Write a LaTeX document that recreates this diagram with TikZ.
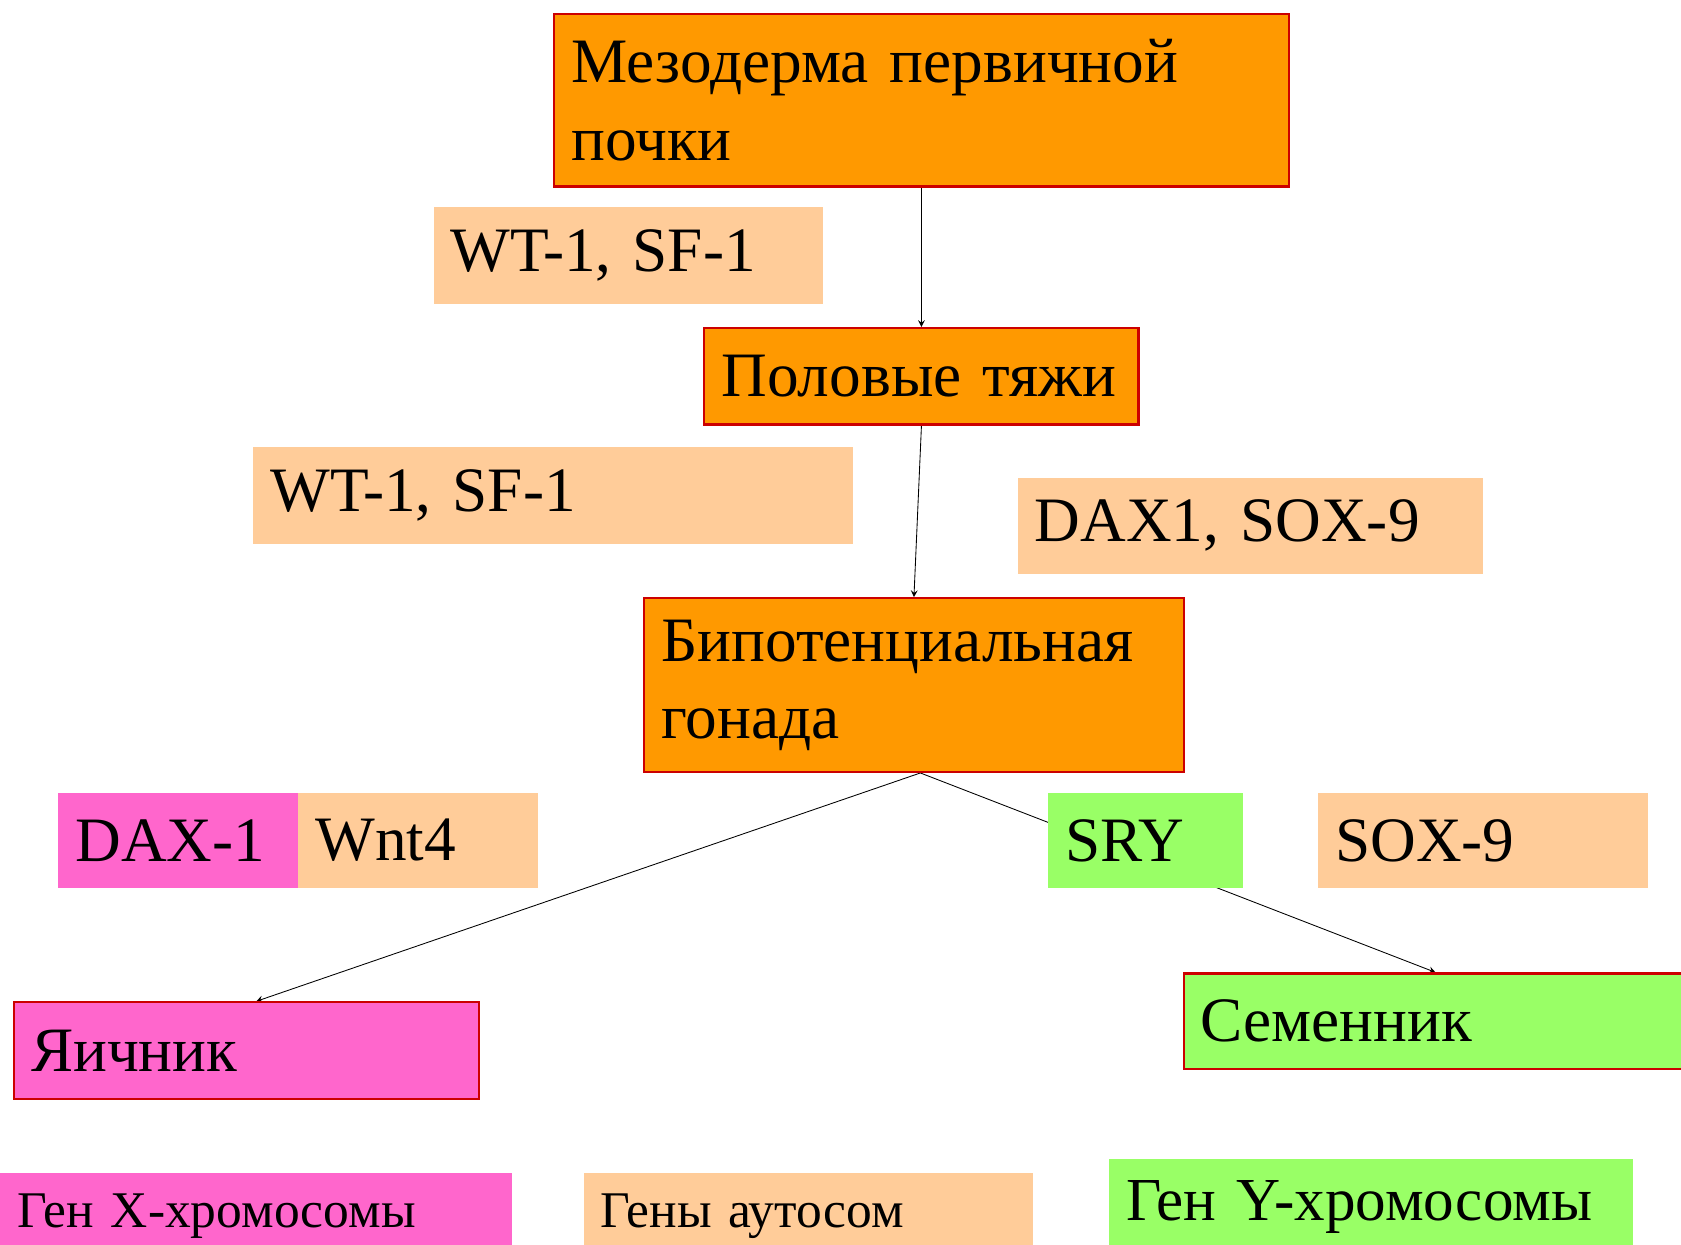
\documentclass[tikz,border=0pt]{standalone}
\usepackage{fontspec}
\setmainfont{Liberation Serif}
\usepackage{tikz}
\usetikzlibrary{positioning, arrows, backgrounds}
\definecolor{stageorange}{HTML}{FF9900}
\definecolor{framered}{HTML}{CC0000}
\definecolor{peach}{HTML}{FFCC99}
\definecolor{xpink}{HTML}{FF66CC}
\definecolor{ylime}{HTML}{99FF66}
\tikzstyle{tb}=[%
      rectangle, anchor=north west, inner xsep=8pt, inner ysep=0pt, align=left,
      font=\fontsize{29.5}{36}\selectfont
]
\tikzstyle{st}=[tb, draw=framered, line width=1pt, fill=stageorange]
\tikzstyle{au}=[tb, fill=peach]
\tikzstyle{xc}=[tb, fill=xpink]
\tikzstyle{yc}=[tb, fill=ylime]
\tikzstyle{fr}=[draw=framered, line width=1pt]

\begin{document}
\begin{tikzpicture}[x=0.5pt, y=-0.5pt,
    ->,
    >=stealth
  ]
    \useasboundingbox (0,0) rectangle (1568,1161);

    % stages
    \node[st, minimum width=342.5pt, minimum height=80.5pt, text width=326.5pt] (meso) at (516,12) {Мезодерма первичной\\почки};
    \node[st, minimum width=202.5pt, minimum height=45pt, text width=186.5pt] (cords) at (656,305) {Половые тяжи};
    \node[st, minimum width=251.5pt, minimum height=81pt, text width=235.5pt] (bipot) at (600,557) {Бипотенциальная\\гонада};

    % genes
    \node[au, minimum width=181.5pt, minimum height=45pt, text width=165.5pt] (wta) at (404,193) {WT-1, SF-1};
    \node[au, minimum width=279.5pt, minimum height=45pt, text width=263.5pt] (wtb) at (236,417) {WT-1, SF-1};
    \node[au, minimum width=217pt, minimum height=45pt, text width=201pt] (daxsox) at (949,445) {DAX1, SOX-9};
    \node[xc, minimum width=112pt, minimum height=44.5pt, text width=96pt] (dax) at (54,739) {DAX-1};
    \node[au, minimum width=111.5pt, minimum height=44.5pt, text width=95.5pt] (wnt) at (278,739) {Wnt4};
    \node[yc, minimum width=91pt, minimum height=44.5pt, text width=75pt] (sry) at (977,739) {SRY};
    \node[au, minimum width=154pt, minimum height=44.5pt, text width=138pt] (sox) at (1229,739) {SOX-9};

    % gonads
    \node[xc, fr, minimum width=217pt, minimum height=45pt, text width=201pt] (ovary) at (12,934) {Яичник};
    \node[yc, fr, minimum width=235pt, minimum height=44.5pt, text width=219pt] (testis) at (1103,907) {Семенник};

    % legend
    \node[xc, minimum width=238.5pt, minimum height=40pt, text width=222.5pt, font=\fontsize{24}{29}\selectfont] (legx) at (0,1094) {Ген X-хромосомы};
    \node[au, minimum width=209.5pt, minimum height=40pt, text width=193.5pt, font=\fontsize{24}{29}\selectfont] (lega) at (544,1094) {Гены аутосом};
    \node[yc, minimum width=244.5pt, minimum height=44.5pt, text width=228.5pt, font=\fontsize{28.5}{34}\selectfont] (legy) at (1034,1081) {Ген Y-хромосомы};

    \begin{scope}[on background layer, line width=0.9pt]
      \draw (meso.south) -- (cords.north);
      \draw (cords.south) -- (bipot.north);
      \draw ([xshift=3pt]bipot.south) -- ([xshift=4.5pt]ovary.north);
      \draw ([xshift=3pt]bipot.south) -- (testis.north);
    \end{scope}
  \end{tikzpicture}
\end{document}
